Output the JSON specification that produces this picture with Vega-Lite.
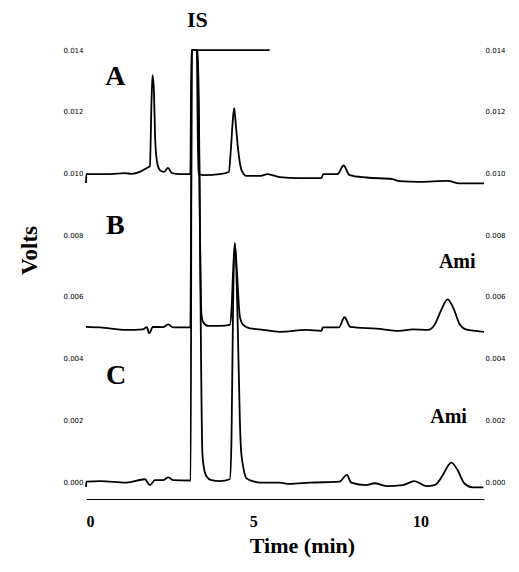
{
  "$schema": "https://vega.github.io/schema/vega-lite/v6.json",
  "width": 398,
  "height": 452,
  "autosize": {"type": "none"},
  "padding": {"left": 86, "top": 47, "right": 35, "bottom": 73},
  "background": "white",
  "config": {"view": {"stroke": null}},
  "datasets": {
    "traces": [
      {"s": "A", "t": 0, "v": 0.00969}, {"s": "A", "t": 0.01, "v": 0.00998}, {"s": "A", "t": 0.72, "v": 0.00998},
      {"s": "A", "t": 1.16, "v": 0.01001}, {"s": "A", "t": 1.37, "v": 0.00999}, {"s": "A", "t": 1.61, "v": 0.01005},
      {"s": "A", "t": 1.82, "v": 0.01018}, {"s": "A", "t": 1.91, "v": 0.01024}, {"s": "A", "t": 1.96, "v": 0.01238},
      {"s": "A", "t": 1.99, "v": 0.01319}, {"s": "A", "t": 2.03, "v": 0.0127}, {"s": "A", "t": 2.07, "v": 0.01108},
      {"s": "A", "t": 2.13, "v": 0.01034}, {"s": "A", "t": 2.21, "v": 0.01011}, {"s": "A", "t": 2.33, "v": 0.01005},
      {"s": "A", "t": 2.45, "v": 0.01018}, {"s": "A", "t": 2.57, "v": 0.01001}, {"s": "A", "t": 2.81, "v": 0.00998},
      {"s": "A", "t": 3.12, "v": 0.00998}, {"s": "A", "t": 3.15, "v": 0.014}, {"s": "A", "t": 3.31, "v": 0.014},
      {"s": "A", "t": 3.36, "v": 0.00998}, {"s": "A", "t": 3.55, "v": 0.00995}, {"s": "A", "t": 4.0, "v": 0.00998},
      {"s": "A", "t": 4.27, "v": 0.01005}, {"s": "A", "t": 4.33, "v": 0.01076}, {"s": "A", "t": 4.39, "v": 0.01173},
      {"s": "A", "t": 4.43, "v": 0.01212}, {"s": "A", "t": 4.48, "v": 0.01157}, {"s": "A", "t": 4.55, "v": 0.01076},
      {"s": "A", "t": 4.65, "v": 0.01011}, {"s": "A", "t": 4.8, "v": 0.00992}, {"s": "A", "t": 5.19, "v": 0.00992},
      {"s": "A", "t": 5.43, "v": 0.00998}, {"s": "A", "t": 5.79, "v": 0.00988}, {"s": "A", "t": 6.39, "v": 0.00985},
      {"s": "A", "t": 7.04, "v": 0.00985}, {"s": "A", "t": 7.09, "v": 0.00998}, {"s": "A", "t": 7.52, "v": 0.00998},
      {"s": "A", "t": 7.7, "v": 0.01026}, {"s": "A", "t": 7.88, "v": 0.00995}, {"s": "A", "t": 8.39, "v": 0.00987},
      {"s": "A", "t": 9.16, "v": 0.00982}, {"s": "A", "t": 9.37, "v": 0.00975}, {"s": "A", "t": 9.97, "v": 0.00973},
      {"s": "A", "t": 10.81, "v": 0.00976}, {"s": "A", "t": 11.16, "v": 0.00968}, {"s": "A", "t": 11.9, "v": 0.00968},

      {"s": "B", "t": 0, "v": 0.00503}, {"s": "B", "t": 0.42, "v": 0.00501}, {"s": "B", "t": 1.21, "v": 0.00493},
      {"s": "B", "t": 1.7, "v": 0.00495}, {"s": "B", "t": 1.82, "v": 0.00502}, {"s": "B", "t": 1.89, "v": 0.00482},
      {"s": "B", "t": 2.0, "v": 0.00503}, {"s": "B", "t": 2.3, "v": 0.00502}, {"s": "B", "t": 2.46, "v": 0.00511},
      {"s": "B", "t": 2.6, "v": 0.00501}, {"s": "B", "t": 3.04, "v": 0.00501}, {"s": "B", "t": 3.12, "v": 0.00501},
      {"s": "B", "t": 3.17, "v": 0.014}, {"s": "B", "t": 3.33, "v": 0.014}, {"s": "B", "t": 3.45, "v": 0.00547},
      {"s": "B", "t": 3.5, "v": 0.00519}, {"s": "B", "t": 3.65, "v": 0.00506}, {"s": "B", "t": 4.0, "v": 0.00506},
      {"s": "B", "t": 4.3, "v": 0.00509}, {"s": "B", "t": 4.35, "v": 0.00557}, {"s": "B", "t": 4.4, "v": 0.00687},
      {"s": "B", "t": 4.45, "v": 0.00775}, {"s": "B", "t": 4.51, "v": 0.00687}, {"s": "B", "t": 4.6, "v": 0.00536},
      {"s": "B", "t": 4.7, "v": 0.00509}, {"s": "B", "t": 4.9, "v": 0.00498}, {"s": "B", "t": 5.19, "v": 0.00495},
      {"s": "B", "t": 5.79, "v": 0.00487}, {"s": "B", "t": 6.59, "v": 0.00493}, {"s": "B", "t": 7.04, "v": 0.0049},
      {"s": "B", "t": 7.08, "v": 0.00501}, {"s": "B", "t": 7.56, "v": 0.00501}, {"s": "B", "t": 7.73, "v": 0.00534},
      {"s": "B", "t": 7.9, "v": 0.00503}, {"s": "B", "t": 8.68, "v": 0.00497}, {"s": "B", "t": 9.37, "v": 0.0049},
      {"s": "B", "t": 9.77, "v": 0.00495}, {"s": "B", "t": 10.22, "v": 0.00493}, {"s": "B", "t": 10.42, "v": 0.00509},
      {"s": "B", "t": 10.62, "v": 0.00557}, {"s": "B", "t": 10.81, "v": 0.00592}, {"s": "B", "t": 11.01, "v": 0.00557},
      {"s": "B", "t": 11.16, "v": 0.00514}, {"s": "B", "t": 11.36, "v": 0.00495}, {"s": "B", "t": 11.66, "v": 0.0049},
      {"s": "B", "t": 11.9, "v": 0.00487},

      {"s": "C", "t": 0, "v": -0.00016}, {"s": "C", "t": 0.01, "v": 0.00001}, {"s": "C", "t": 0.42, "v": 0.00003},
      {"s": "C", "t": 1.21, "v": -0.00002}, {"s": "C", "t": 1.76, "v": 0.00009}, {"s": "C", "t": 1.91, "v": -0.0001},
      {"s": "C", "t": 2.06, "v": 0.00006}, {"s": "C", "t": 2.3, "v": 0.00006}, {"s": "C", "t": 2.46, "v": 0.00015},
      {"s": "C", "t": 2.61, "v": 0.00006}, {"s": "C", "t": 3.08, "v": 0.00005}, {"s": "C", "t": 3.13, "v": 0.00005},
      {"s": "C", "t": 3.16, "v": 0.014}, {"s": "C", "t": 3.34, "v": 0.014}, {"s": "C", "t": 3.48, "v": 0.00093},
      {"s": "C", "t": 3.52, "v": 0.0005}, {"s": "C", "t": 3.6, "v": 0.00019}, {"s": "C", "t": 3.75, "v": 0.00006},
      {"s": "C", "t": 4.0, "v": 0.00003}, {"s": "C", "t": 4.3, "v": 0.00009}, {"s": "C", "t": 4.35, "v": 0.00136},
      {"s": "C", "t": 4.4, "v": 0.0059}, {"s": "C", "t": 4.46, "v": 0.00768}, {"s": "C", "t": 4.54, "v": 0.00493},
      {"s": "C", "t": 4.6, "v": 0.00201}, {"s": "C", "t": 4.63, "v": 0.00114}, {"s": "C", "t": 4.7, "v": 0.0005},
      {"s": "C", "t": 4.8, "v": 0.00012}, {"s": "C", "t": 5.04, "v": 0.00001}, {"s": "C", "t": 5.19, "v": -0.00002},
      {"s": "C", "t": 5.79, "v": -0.00002}, {"s": "C", "t": 6.09, "v": -0.00006}, {"s": "C", "t": 6.69, "v": -0.00002},
      {"s": "C", "t": 7.58, "v": 0.00001}, {"s": "C", "t": 7.8, "v": 0.00023}, {"s": "C", "t": 7.93, "v": -0.00002},
      {"s": "C", "t": 8.38, "v": -0.0001}, {"s": "C", "t": 8.63, "v": -0.00004}, {"s": "C", "t": 8.98, "v": -0.00013},
      {"s": "C", "t": 9.47, "v": -0.0001}, {"s": "C", "t": 9.82, "v": 0.00003}, {"s": "C", "t": 10.17, "v": -0.00013},
      {"s": "C", "t": 10.42, "v": -0.0001}, {"s": "C", "t": 10.67, "v": 0.00023}, {"s": "C", "t": 10.78, "v": 0.00045},
      {"s": "C", "t": 10.92, "v": 0.00063}, {"s": "C", "t": 11.11, "v": 0.00039}, {"s": "C", "t": 11.31, "v": -0.00004},
      {"s": "C", "t": 11.56, "v": -0.00017}, {"s": "C", "t": 11.88, "v": -0.00017},

      {"s": "top", "t": 3.34, "v": 0.014}, {"s": "top", "t": 5.49, "v": 0.014}
    ]
  },
  "layer": [
    {
      "layer": [
        {
          "data": {"name": "traces"},
          "mark": {"type": "line", "color": "black", "strokeWidth": 1.8, "interpolate": "monotone"},
          "encoding": {
            "x": {
              "field": "t", "type": "quantitative",
              "scale": {"domain": [0, 11.9], "nice": false, "zero": false},
              "axis": {
                "values": [0, 5, 10], "format": "d", "ticks": false, "grid": false,
                "domain": true, "domainColor": "black", "domainWidth": 1.2,
                "labelFont": "Liberation Serif", "labelFontWeight": "bold", "labelFontSize": 16, "labelColor": "black",
                "labelPadding": 14,
                "title": "Time (min)", "titleFont": "Liberation Serif", "titleFontWeight": "bold", "titleFontSize": 22,
                "titleColor": "black", "titlePadding": 6, "titleX": 216, "titleAlign": "center"
              }
            },
            "y": {
              "field": "v", "type": "quantitative",
              "scale": {"domain": [-0.00055, 0.0141], "nice": false, "zero": false},
              "axis": {
                "orient": "left",
                "values": [0, 0.002, 0.004, 0.006, 0.008, 0.01, 0.012, 0.014], "format": ".3f",
                "ticks": false, "grid": false, "domain": false,
                "labelFont": "DejaVu Sans", "labelFontSize": 7, "labelColor": "black", "labelPadding": 3,
                "title": "Volts", "titleFont": "Liberation Serif", "titleFontWeight": "bold", "titleFontSize": 23,
                "titleColor": "black", "titleAngle": -90, "titleX": -57, "titleY": 203,
                "titleAlign": "center", "titleBaseline": "middle"
              }
            },
            "detail": {"field": "s", "type": "nominal"}
          }
        },
        {
          "data": {"values": [{"label": "A", "t": 0.88, "v": 0.01312}, {"label": "B", "t": 0.88, "v": 0.00831}, {"label": "C", "t": 0.9, "v": 0.00344}]},
          "mark": {"type": "text", "font": "Liberation Serif", "fontWeight": "bold", "fontSize": 28, "color": "black", "align": "center", "baseline": "middle"},
          "encoding": {
            "x": {"field": "t", "type": "quantitative"},
            "y": {"field": "v", "type": "quantitative"},
            "text": {"field": "label"}
          }
        },
        {
          "data": {"values": [{"label": "IS", "t": 3.33, "v": 0.01499}]},
          "mark": {"type": "text", "font": "Liberation Serif", "fontWeight": "bold", "fontSize": 22, "color": "black", "align": "center", "baseline": "middle"},
          "encoding": {
            "x": {"field": "t", "type": "quantitative"},
            "y": {"field": "v", "type": "quantitative"},
            "text": {"field": "label"}
          }
        },
        {
          "data": {"values": [{"label": "Ami", "t": 11.1, "v": 0.00713}, {"label": "Ami", "t": 10.84, "v": 0.00211}]},
          "mark": {"type": "text", "font": "Liberation Serif", "fontWeight": "bold", "fontSize": 20, "color": "black", "align": "center", "baseline": "middle"},
          "encoding": {
            "x": {"field": "t", "type": "quantitative"},
            "y": {"field": "v", "type": "quantitative"},
            "text": {"field": "label"}
          }
        }
      ]
    },
    {
      "data": {"values": [{"t": 0, "v": 0}]},
      "mark": {"type": "point", "opacity": 0},
      "encoding": {
        "x": {"field": "t", "type": "quantitative"},
        "y": {
          "field": "v", "type": "quantitative",
          "scale": {"domain": [-0.00055, 0.0141], "nice": false, "zero": false},
          "axis": {
            "orient": "right",
            "values": [0, 0.002, 0.004, 0.006, 0.008, 0.01, 0.012, 0.014], "format": ".3f",
            "ticks": false, "grid": false, "domain": false,
            "labelFont": "DejaVu Sans", "labelFontSize": 7, "labelColor": "black", "labelPadding": 1,
            "title": null
          }
        }
      }
    }
  ],
  "resolve": {"scale": {"y": "independent"}, "axis": {"y": "independent"}}
}
